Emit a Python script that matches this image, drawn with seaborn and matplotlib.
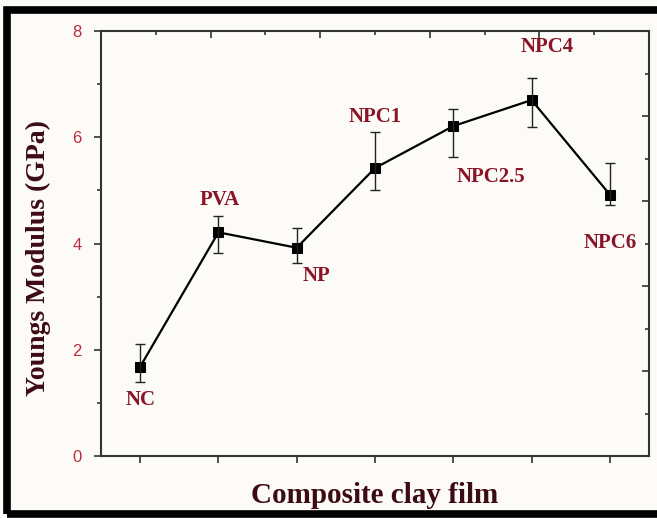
import matplotlib
matplotlib.use("Agg")
import matplotlib.pyplot as plt
from matplotlib.patches import Rectangle
from matplotlib.ticker import MultipleLocator
import seaborn as sns
import pandas as pd
import numpy as np

categories = ["NC", "PVA", "NP", "NPC1", "NPC2.5", "NPC4", "NPC6"]
modulus = [1.68, 4.21, 3.92, 5.42, 6.21, 6.70, 4.92]
err_low = [1.39, 3.82, 3.63, 5.01, 5.63, 6.20, 4.73]
err_high = [2.11, 4.52, 4.29, 6.10, 6.53, 7.12, 5.52]
y_ticks = [0, 2, 4, 6, 8]

sns.set_theme(style="white")
plt.rcParams['font.family'] = ['Liberation Sans', 'DejaVu Sans']

bg = "#fdfbf7"
label_red = "#8a1428"
tick_red = "#bc2c40"
axis_label_col = "#3d0b14"

df = pd.DataFrame({"pos": np.arange(len(categories)), "cat": categories, "E": modulus})

fig = plt.figure(figsize=(6.57, 5.18), dpi=100, facecolor=bg)
ax = fig.add_axes([101/657, 1-456/518, (649-101)/657, (456-31)/518])
ax.set_facecolor(bg)

sns.lineplot(data=df, x="pos", y="E", ax=ax, color="black", linewidth=1.6,
             marker="s", markersize=7, markeredgecolor="black", markerfacecolor="black")
yerr = np.array([np.array(modulus) - np.array(err_low), np.array(err_high) - np.array(modulus)])
ax.errorbar(df["pos"], df["E"], yerr=yerr, fmt="none", ecolor="#222222", elinewidth=1.0,
            capsize=3.5, capthick=1.0)

ax.set_xlim(-0.5, 6.5)
ax.set_ylim(0, 8)
ax.set_xticks(df["pos"])
ax.set_xticklabels([])
ax.set_yticks(y_ticks)
ax.set_yticklabels([str(t) for t in y_ticks], color=tick_red, fontsize=12)
ax.yaxis.set_minor_locator(MultipleLocator(1))
ax.tick_params(axis="both", which="major", direction="out", length=5, width=1.2, color="#333333",
               left=True, bottom=True)
ax.tick_params(axis="y", which="major", pad=9)
ax.tick_params(axis="y", which="minor", direction="out", length=3, width=1.2, color="#333333", left=True)
for s in ax.spines.values():
    s.set_color("#333333")
    s.set_linewidth(1.5)

# top and right decorative axes (different scale, ticks inward, no labels)
top = ax.secondary_xaxis("top", functions=(lambda x: (x + 0.5) * 10 / 7, lambda u: u * 7 / 10 - 0.5))
top.set_xticks([2, 4, 6, 8])
top.xaxis.set_minor_locator(MultipleLocator(1))
top.tick_params(which="major", direction="in", length=5, width=1.2, color="#333333", labeltop=False)
top.tick_params(which="minor", direction="in", length=3, width=1.2, color="#333333")
top.spines["top"].set_visible(False)
right = ax.secondary_yaxis("right", functions=(lambda y: y * 10 / 8, lambda u: u * 8 / 10))
right.set_yticks([2, 4, 6, 8])
right.yaxis.set_minor_locator(MultipleLocator(1))
right.tick_params(which="major", direction="in", length=5, width=1.2, color="#333333", labelright=False)
right.tick_params(which="minor", direction="in", length=3, width=1.2, color="#333333")
right.spines["right"].set_visible(False)

ax.set_xlabel("Composite clay film", fontsize=21, fontweight="bold", family="Liberation Serif",
              color=axis_label_col, labelpad=10)
ax.set_ylabel("Youngs Modulus (GPa)", fontsize=20, fontweight="bold", family="Liberation Serif",
              color=axis_label_col)
ax.yaxis.set_label_coords(-0.092, 0.465)

# annotation offsets (points) per category
offsets = [(0, -24), (1, 23), (14, -20), (0, 37), (27, -37), (11, 38), (0, -35)]
for i, (c, v) in enumerate(zip(categories, modulus)):
    dx, dy = offsets[i]
    ax.annotate(c, (i, v), xytext=(dx, dy), textcoords="offset points", ha="center", va="center",
                fontsize=15, fontweight="bold", family="Liberation Serif", color=label_red)

# outer black frame
fig.patches.append(Rectangle((6.5/657, 4/518), 1.2, 1-14/518, transform=fig.transFigure,
                             fill=False, edgecolor="black", linewidth=5.5, zorder=10))

fig.savefig("out.png", dpi=100, facecolor=bg)
